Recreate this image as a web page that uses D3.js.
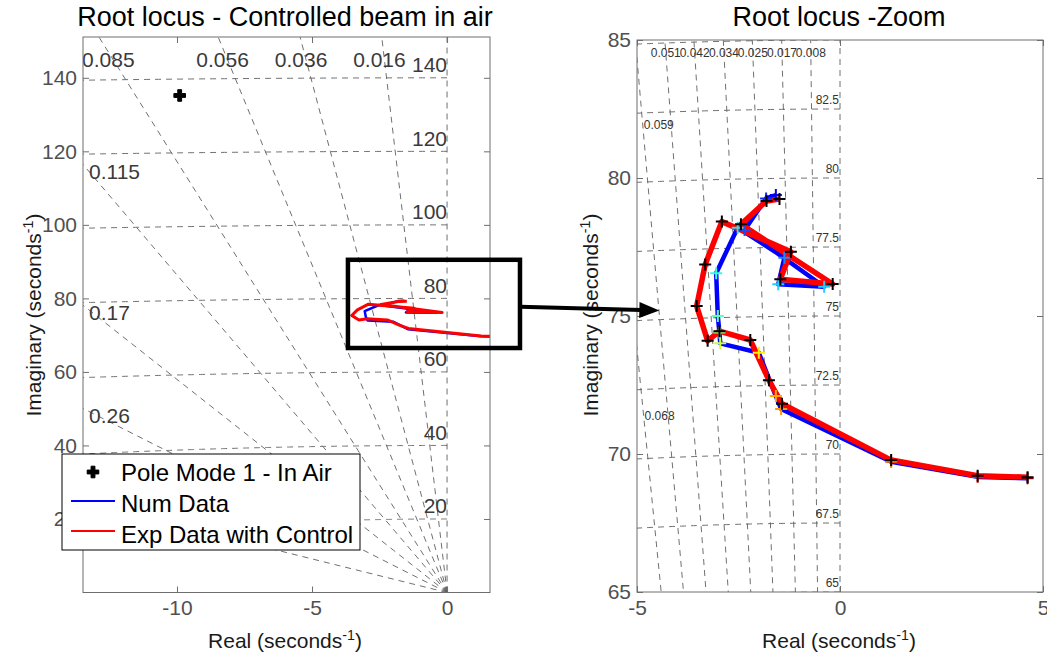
<!DOCTYPE html>
<html>
<head>
<meta charset="utf-8">
<script src="https://cdn.jsdelivr.net/npm/d3@7"></script>
<style>
body { margin: 0; background: #fff; }
svg { display: block; font-family: "Liberation Sans", Arial, sans-serif; }
</style>
</head>
<body>
<script>
// ---- values ----
// open-loop pole, mode 1 in air
const poleRe = [-9.9];
const poleIm = [135.2];

// experimental locus (red line, black + markers)
const expRe = [4.62, 3.39, 1.26, -1.43, -1.75, -2.21, -2.97, -3.26, -3.53, -3.32, -2.91, -1.21, -1.47, -0.18, -2.44, -1.81, -1.49];
const expIm = [69.16, 69.21, 69.78, 71.82, 72.67, 74.13, 74.45, 74.10, 75.36, 76.87, 78.42, 77.33, 76.33, 76.16, 78.32, 79.17, 79.24];

// numerical locus (blue line, coloured + markers)
const numRe = [4.62, 3.39, 1.26, -1.45, -1.58, -2.00, -2.95, -2.97, -3.01, -3.05, -2.52, -1.37, -1.52, -0.39, -2.35, -1.82, -1.58];
const numIm = [69.12, 69.17, 69.72, 71.63, 72.10, 73.67, 74.01, 74.40, 75.00, 76.55, 78.20, 77.11, 76.15, 76.06, 78.12, 79.26, 79.38];
const numMarkerColors = ["#a00000", "#ff2000", "#ff6000", "#ff9900", "#ffaa00", "#ffee00", "#ccff33", "#99ff66",
    "#66ffaa", "#33ffdd", "#33ddee", "#2288ff", "#22ccff", "#22ccff", "#2244ff", "#1122ff", "#0000ee"];

// ticks
const leftXTicks = [-10, -5, 0];
const leftYTicks = [20, 40, 60, 80, 100, 120, 140];
const rightXTicks = [-5, 0, 5];
const rightYTicks = [65, 70, 75, 80, 85];

// s-plane grid (damping ratio rays, natural frequency circles)
const leftZeta = [0.016, 0.036, 0.056, 0.085, 0.115, 0.17, 0.26, 0.48];
const leftZetaLabels = ["0.016", "0.036", "0.056", "0.085", "0.115", "0.17", "0.26", "0.48"];
const leftWn = [20, 40, 60, 80, 100, 120, 140];
const rightZeta = [0.0085, 0.0169, 0.0254, 0.0338, 0.0423, 0.0507, 0.0592, 0.0676];
const rightZetaLabels = ["0.008", "0.017", "0.025", "0.034", "0.042", "0.051", "0.059", "0.068"];
const rightWn = [65, 67.5, 70, 72.5, 75, 77.5, 80, 82.5, 85];
const rightWnLabels = ["65", "67.5", "70", "72.5", "75", "77.5", "80", "82.5", "85"];

// ---- layout ----
const W = 1047, H = 661;
const svg = d3.select("body").append("svg").attr("width", W).attr("height", H);

const L = {x0: 83, x1: 490, y0: 37, y1: 592.5};
const xL = d3.scaleLinear().domain([-13.48, 1.59]).range([L.x0, L.x1]);
const yL = d3.scaleLinear().domain([0, 151.1]).range([L.y1, L.y0]);

const R = {x0: 637, x1: 1043, y0: 40, y1: 592};
const xR = d3.scaleLinear().domain([-5, 5]).range([R.x0, R.x1]);
const yR = d3.scaleLinear().domain([65, 85]).range([R.y1, R.y0]);

const gridColor = "#606060";
const axisColor = "#6e6e6e";
const tickText = "#505050";

const defs = svg.append("defs");
[["clipL", L], ["clipR", R]].forEach(([id, b]) => {
    defs.append("clipPath").attr("id", id)
        .append("rect").attr("x", b.x0).attr("y", b.y0)
        .attr("width", b.x1 - b.x0).attr("height", b.y1 - b.y0);
});

const pts = (re, im) => re.map((r, i) => [r, im[i]]);

// grid: rays + circles + imaginary axis
function drawGrid(g, x, y, zetas, wns) {
    zetas.forEach(z => {
        const far = 2000;
        g.append("path")
            .attr("d", d3.line()([[x(0), y(0)], [x(-far * z), y(far * Math.sqrt(1 - z * z))]]))
            .attr("fill", "none").attr("stroke", gridColor)
            .attr("stroke-width", 0.9).attr("stroke-dasharray", "6,5");
    });
    wns.forEach(r => {
        const arc = d3.range(0, 1441).map(i => {
            const a = Math.PI / 2 + i / 1440 * Math.PI / 2;
            return [x(r * Math.cos(a)), y(r * Math.sin(a))];
        });
        g.append("path").attr("d", d3.line()(arc))
            .attr("fill", "none").attr("stroke", gridColor)
            .attr("stroke-width", 0.9).attr("stroke-dasharray", "6,5");
    });
    g.append("line")
        .attr("x1", x(0)).attr("x2", x(0))
        .attr("y1", y(0)).attr("y2", y(y.domain()[1]))
        .attr("stroke", gridColor).attr("stroke-width", 0.9).attr("stroke-dasharray", "6,5");
}

function drawAxes(g, x, y, b, xt, yt) {
    const style = sel => {
        sel.select(".domain").remove();
        sel.attr("font-size", 21).attr("font-family", null);
        sel.selectAll(".tick line").attr("stroke", axisColor);
        sel.selectAll(".tick text").attr("fill", tickText);
    };
    g.append("g").attr("transform", `translate(0,${b.y1})`)
        .call(d3.axisBottom(x).tickValues(xt).tickSize(-6).tickPadding(8).tickFormat(d => String(d))).call(style);
    g.append("g").attr("transform", `translate(0,${b.y0})`)
        .call(d3.axisTop(x).tickValues(xt).tickSize(-6).tickFormat("")).call(style);
    g.append("g").attr("transform", `translate(${b.x0},0)`)
        .call(d3.axisLeft(y).tickValues(yt).tickSize(-6).tickPadding(6).tickFormat(d => String(d))).call(style);
    g.append("g").attr("transform", `translate(${b.x1},0)`)
        .call(d3.axisRight(y).tickValues(yt).tickSize(-6).tickFormat("")).call(style);
    g.append("rect").attr("x", b.x0).attr("y", b.y0)
        .attr("width", b.x1 - b.x0).attr("height", b.y1 - b.y0)
        .attr("fill", "none").attr("stroke", axisColor).attr("stroke-width", 1);
}

function supText(sel, main, sup, tail) {
    sel.append("tspan").text(main);
    sel.append("tspan").attr("font-size", "68%").attr("dy", -8).text(sup);
    sel.append("tspan").attr("dy", 8).text(tail);
}

function labels(title, titleX, yLabX) {
    svg.append("text").attr("x", titleX).attr("y", 26).attr("text-anchor", "middle")
        .attr("font-size", 27).attr("fill", "#000").text(title);
    svg.append("text").attr("x", titleX).attr("y", 648).attr("text-anchor", "middle")
        .attr("font-size", 21).attr("fill", "#1a1a1a")
        .call(supText, "Real (seconds", "-1", ")");
    svg.append("text").attr("transform", `translate(${yLabX},315) rotate(-90)`).attr("text-anchor", "middle")
        .attr("font-size", 21).attr("fill", "#1a1a1a")
        .call(supText, "Imaginary (seconds", "-1", ")");
}

// ================= left panel =================
const gL = svg.append("g");
const gridL = gL.append("g").attr("clip-path", "url(#clipL)");
drawGrid(gridL, xL, yL, leftZeta, leftWn);

// damping labels: on the top edge or the left edge
const labL = gL.append("g").attr("clip-path", "url(#clipL)")
    .attr("font-size", 21).attr("fill", "#3a3a3a");
leftZeta.forEach((z, i) => {
    const s = Math.sqrt(1 - z * z);
    const rowIm = yL.invert(L.y0 + 23);
    const xTop = -rowIm * z / s;
    if (xTop > xL.domain()[0]) {
        labL.append("text").attr("x", xL(xTop) - 5).attr("y", L.y0 + 23)
            .attr("dy", "0.35em").attr("text-anchor", "middle").text(leftZetaLabels[i]);
    } else {
        const yLeft = -xL.domain()[0] * s / z;
        labL.append("text").attr("x", L.x0 + 6).attr("y", yL(yLeft) + 7)
            .attr("dy", "0.35em").attr("text-anchor", "start").text(leftZetaLabels[i]);
    }
});
leftWn.forEach(r => {
    labL.append("text").attr("x", xL(0)).attr("y", yL(r) - 13)
        .attr("dy", "0.35em").attr("text-anchor", "end").text(r);
});

const dataL = gL.append("g").attr("clip-path", "url(#clipL)");
const lineL = d3.line().x(d => xL(d[0])).y(d => yL(d[1]));
dataL.append("path").attr("d", lineL(pts(numRe, numIm)))
    .attr("fill", "none").attr("stroke", "#0000ff").attr("stroke-width", 2.5).attr("stroke-linejoin", "round");
dataL.append("path").attr("d", lineL(pts(expRe, expIm)))
    .attr("fill", "none").attr("stroke", "#ff0000").attr("stroke-width", 3).attr("stroke-linejoin", "round");
dataL.selectAll(".pole").data(pts(poleRe, poleIm)).enter().append("path")
    .attr("class", "pole")
    .attr("transform", d => `translate(${xL(d[0])},${yL(d[1])})`)
    .attr("d", d3.symbol(d3.symbolCross, 75)).attr("fill", "#000")
    .attr("stroke", "#000").attr("stroke-width", 1);

drawAxes(gL, xL, yL, L, leftXTicks, leftYTicks);
labels("Root locus - Controlled beam in air", 285, 41);

// legend
const leg = svg.append("g");
leg.append("rect").attr("x", 62).attr("y", 454).attr("width", 298).attr("height", 96)
    .attr("fill", "#fff").attr("stroke", "#000").attr("stroke-width", 1);
leg.append("path").attr("transform", "translate(93,472)")
    .attr("d", d3.symbol(d3.symbolCross, 75)).attr("fill", "#000")
    .attr("stroke", "#000").attr("stroke-width", 1);
leg.append("line").attr("x1", 71).attr("x2", 115).attr("y1", 501).attr("y2", 501)
    .attr("stroke", "#0000ff").attr("stroke-width", 2);
leg.append("line").attr("x1", 71).attr("x2", 115).attr("y1", 531).attr("y2", 531)
    .attr("stroke", "#ff0000").attr("stroke-width", 2);
const legText = ["Pole Mode 1 - In Air", "Num Data", "Exp Data with Control"];
leg.selectAll(".lt").data(legText).enter().append("text")
    .attr("class", "lt")
    .attr("x", 121).attr("y", (d, i) => 481 + i * 31)
    .attr("font-size", 24).attr("fill", "#000").text(d => d);

// ================= right panel =================
const gR = svg.append("g");
const gridR = gR.append("g").attr("clip-path", "url(#clipR)");
drawGrid(gridR, xR, yR, rightZeta, rightWn);

const labR = gR.append("g").attr("clip-path", "url(#clipR)")
    .attr("font-size", 12).attr("fill", "#333");
rightZeta.forEach((z, i) => {
    const s = Math.sqrt(1 - z * z);
    const rowIm = yR.invert(R.y0 + 13);
    const xTop = -rowIm * z / s;
    if (xTop > xR.domain()[0]) {
        labR.append("text").attr("x", xR(xTop)).attr("y", R.y0 + 13)
            .attr("dy", "0.35em").attr("text-anchor", "middle").text(rightZetaLabels[i]);
    } else {
        const yLeft = -xR.domain()[0] * s / z;
        const im = yLeft - 2.4;
        labR.append("text").attr("x", xR(-im * z / s) + 1).attr("y", yR(im))
            .attr("dy", "0.35em").attr("text-anchor", "start").text(rightZetaLabels[i]);
    }
});
rightWn.forEach((r, i) => {
    if (r >= yR.domain()[1]) return;
    labR.append("text").attr("x", xR(0) - 1).attr("y", yR(r) - 9)
        .attr("dy", "0.35em").attr("text-anchor", "end").text(rightWnLabels[i]);
});

const dataR = gR.append("g").attr("clip-path", "url(#clipR)");
const lineR = d3.line().x(d => xR(d[0])).y(d => yR(d[1]));
dataR.append("path").attr("d", lineR(pts(numRe, numIm)))
    .attr("fill", "none").attr("stroke", "#0000ff").attr("stroke-width", 4.5).attr("stroke-linejoin", "round");
dataR.append("path").attr("d", lineR(pts(expRe, expIm)))
    .attr("fill", "none").attr("stroke", "#ff0000").attr("stroke-width", 5.5).attr("stroke-linejoin", "round");
const plus = "M-6,0H6M0,-6V6";
dataR.selectAll(".nm").data(pts(numRe, numIm)).enter().append("path")
    .attr("class", "nm")
    .attr("transform", d => `translate(${xR(d[0])},${yR(d[1])})`)
    .attr("d", plus).attr("stroke", (d, i) => numMarkerColors[i]).attr("stroke-width", 2);
dataR.selectAll(".em").data(pts(expRe, expIm)).enter().append("path")
    .attr("class", "em")
    .attr("transform", d => `translate(${xR(d[0])},${yR(d[1])})`)
    .attr("d", plus).attr("stroke", "#000").attr("stroke-width", 2);

drawAxes(gR, xR, yR, R, rightXTicks, rightYTicks);
labels("Root locus -Zoom", 839, 598);

// ================= zoom box + arrow =================
svg.append("rect")
    .attr("x", xL(-3.67)).attr("y", yL(90.5))
    .attr("width", xL(2.7) - xL(-3.67)).attr("height", yL(66.5) - yL(90.5))
    .attr("fill", "none").attr("stroke", "#000").attr("stroke-width", 4.5);

const a0 = [xL(2.7), yL(77.7)];
const a1 = [xR(-4.45), yR(75.2)];
const ang = Math.atan2(a1[1] - a0[1], a1[0] - a0[0]);
const headLen = 20, headHalf = 8;
const base = [a1[0] - headLen * Math.cos(ang), a1[1] - headLen * Math.sin(ang)];
svg.append("line")
    .attr("x1", a0[0]).attr("y1", a0[1]).attr("x2", base[0] + 2 * Math.cos(ang)).attr("y2", base[1] + 2 * Math.sin(ang))
    .attr("stroke", "#000").attr("stroke-width", 4);
svg.append("path")
    .attr("d", d3.line()([
        a1,
        [base[0] - headHalf * Math.sin(ang), base[1] + headHalf * Math.cos(ang)],
        [base[0] + headHalf * Math.sin(ang), base[1] - headHalf * Math.cos(ang)]
    ]) + "Z")
    .attr("fill", "#000");
</script>
</body>
</html>
